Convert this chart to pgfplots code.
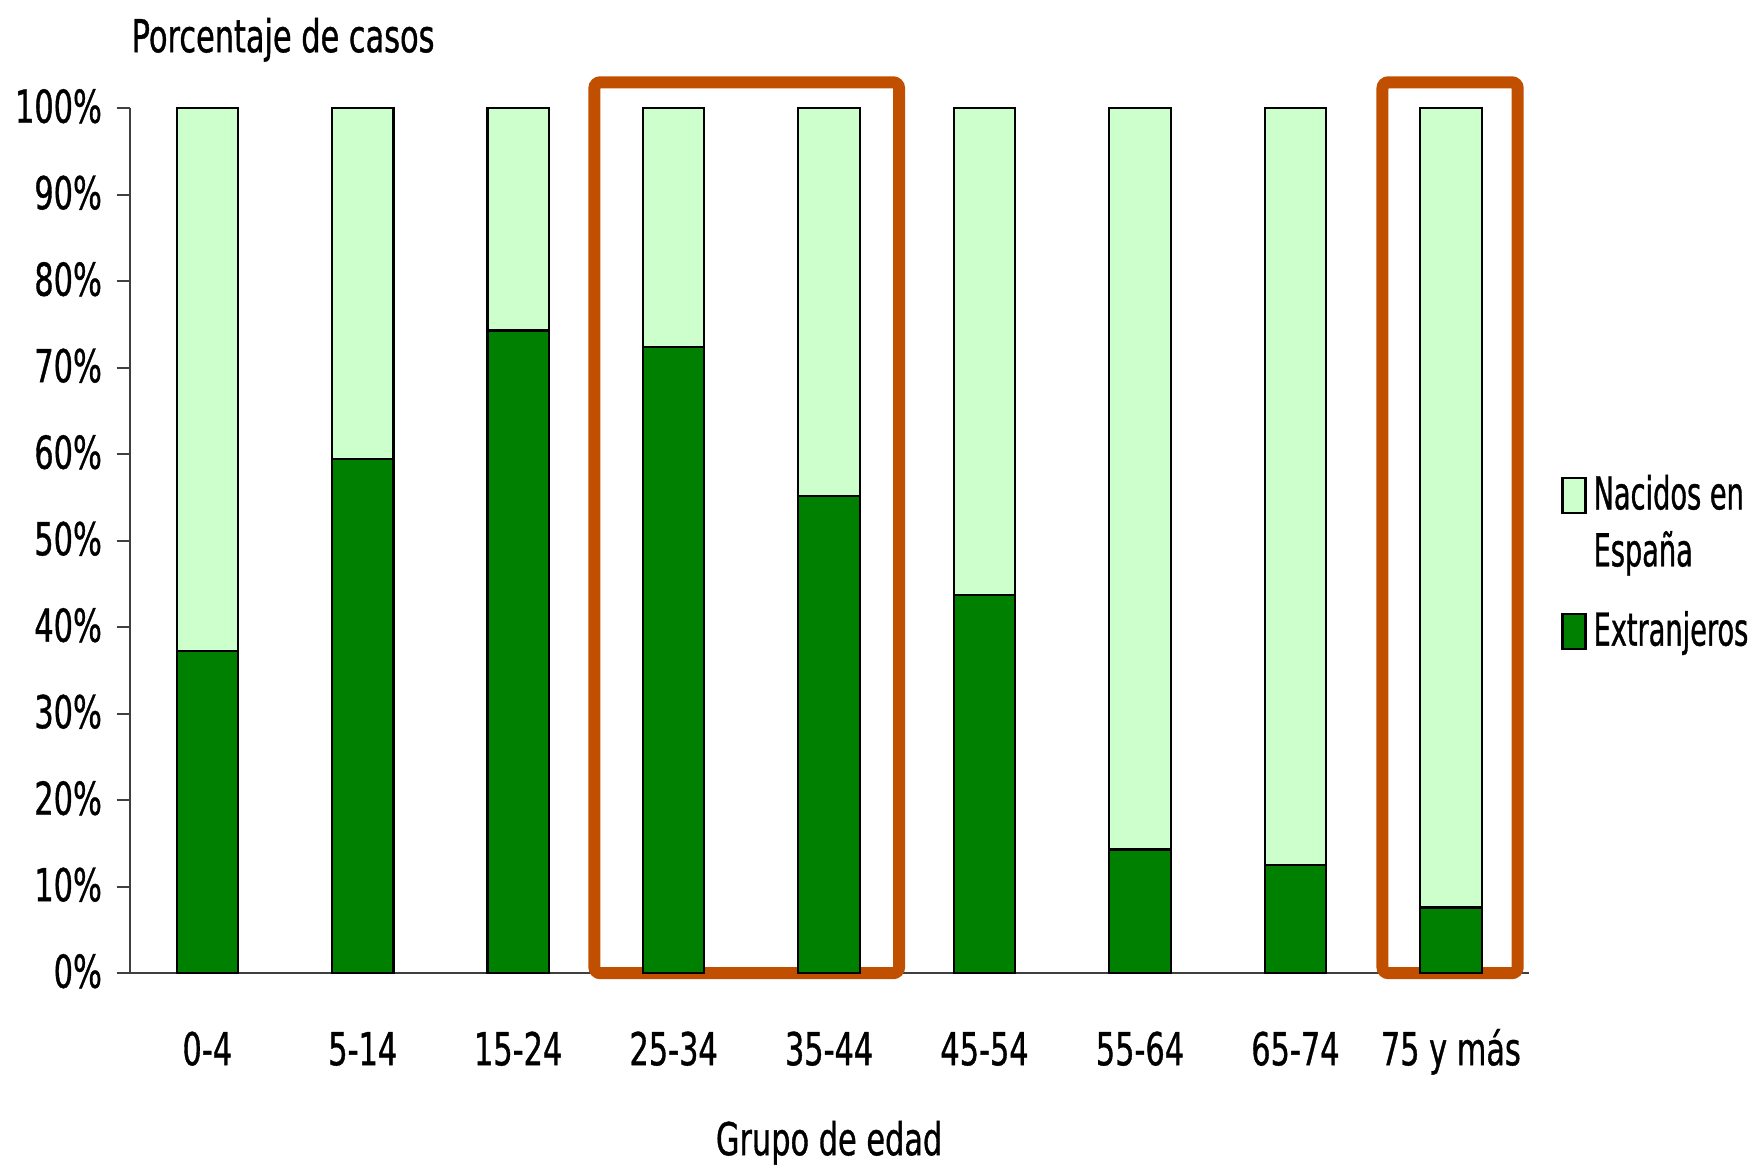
\documentclass[border=0pt]{standalone}
\usepackage{fontspec}
\setmainfont{DejaVu Sans}[FakeStretch=0.67, FakeBold=0.8]
\newfontfamily\legfont{DejaVu Sans}[FakeStretch=0.6, FakeBold=0.8]
\usepackage{pgfplots}
\pgfplotsset{compat=1.18}
\definecolor{nacidos}{HTML}{CCFFCC}
\definecolor{extranj}{HTML}{008000}
\definecolor{marco}{HTML}{C05000}

% share of cases by age group (percent)
\pgfplotstableread{
x ext nac
0 37.3 62.7
1 59.4 40.6
2 74.3 25.7
3 72.4 27.6
4 55.2 44.8
5 43.7 56.3
6 14.3 85.7
7 12.5 87.5
8 7.6 92.4
}\casos

\begin{document}
\fontsize{12.9}{15.5}\selectfont
\begin{tikzpicture}
\begin{axis}[
  scale only axis, width=139.9mm, height=86.5mm,
  ybar stacked, bar width=6.15mm,
  xmin=-0.5, xmax=8.5, ymin=0, ymax=100,
  axis x line*=bottom, axis y line*=left,
  axis line style={black!75, line width=0.6pt, -},
  xtick={0,...,8},
  xticklabels={0-4,5-14,15-24,25-34,35-44,45-54,55-64,65-74,75 y más},
  x tick style={draw=none},
  ytick={0,10,...,100},
  yticklabels={0\%,10\%,20\%,30\%,40\%,50\%,60\%,70\%,80\%,90\%,100\%},
  y tick style={black!75, line width=0.6pt},
  major tick length=1.3mm, tick align=outside,
  ticklabel style={font=\fontsize{12.9}{15.5}\selectfont},
  yticklabel style={anchor=east, inner sep=0pt, xshift=-1.4mm, yshift=0.2mm},
  xticklabel style={anchor=base, inner sep=0pt, yshift=-7.9mm},
  clip=false,
  reverse legend,
  legend style={at={(1.023,0.585)}, anchor=north west, draw=none, fill=none,
    inner sep=0pt, row sep=2.4mm, column sep=0pt,
    font=\legfont\fontsize{12.9}{16.2}\selectfont,
    cells={anchor=west, align=left, inner xsep=0.6mm}},
]
\addplot[fill=extranj, draw=black, line width=0.6pt,
  legend image code/.code={\draw[fill=extranj, draw=black, line width=0.6pt] (0mm,-1.75mm) rectangle (2.3mm,1.75mm);}]
  table[x=x, y=ext] {\casos};
\addlegendentry{Extranjeros}
\addplot[fill=nacidos, draw=black, line width=0.6pt,
  legend image code/.code={\draw[fill=nacidos, draw=black, line width=0.6pt] (0mm,1.1mm) rectangle (2.3mm,4.6mm);}]
  table[x=x, y=nac] {\casos};
\addlegendentry{Nacidos en\\España}
% highlighted age groups
\draw[marco, line width=1.2mm, rounded corners=0.6mm]
  (axis cs:2.49,0) rectangle (axis cs:4.45,103);
\draw[marco, line width=1.2mm, rounded corners=0.6mm]
  (axis cs:7.56,0) rectangle (axis cs:8.43,103);
\end{axis}
\node[anchor=base west, inner sep=0pt] at (0.14mm,92.1mm) {Porcentaje de casos};
\node[anchor=base, inner sep=0pt] at (69.95mm,-18.2mm) {Grupo de edad};
\pgfresetboundingbox
\path[use as bounding box] (-12.96mm,-19.48mm) rectangle (162.24mm,97.32mm);
\end{tikzpicture}
\end{document}
